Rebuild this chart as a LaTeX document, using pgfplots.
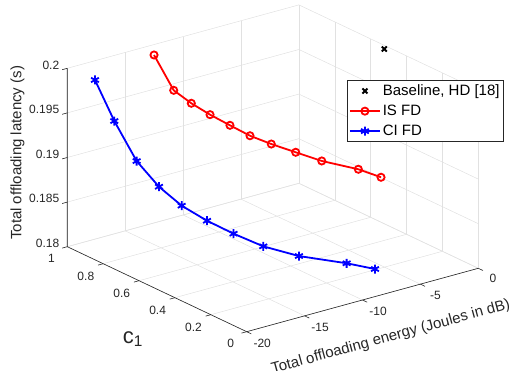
\documentclass[border=0pt]{standalone}
\usepackage{pgfplots}
\usepackage{pgfplotstable}
\pgfplotsset{compat=1.18}
\usepackage{fontspec}
\setmainfont{Liberation Sans}

% energy (dB), weight c1, latency (s)
\pgfplotstableread{
e      c    lat
-12.51 1.0  0.19883
-12.36 0.9  0.19577
-12.39 0.8  0.19528
-12.32 0.7  0.19493
-12.15 0.6  0.19463
-11.97 0.5  0.19435
-11.68 0.4  0.19427
-11.12 0.3  0.19410
-10.42 0.2  0.19383
-8.81  0.1  0.19328
-8.40  0.0  0.19319
}\isfd

\pgfplotstableread{
e      c    lat
-17.61 1.0  0.19784
-17.49 0.9  0.19415
-17.11 0.8  0.19048
-16.73 0.7  0.18842
-16.32 0.6  0.18710
-15.68 0.5  0.18614
-14.94 0.4  0.18538
-13.92 0.3  0.18455
-12.39 0.2  0.18387
-9.82  0.1  0.18310
-8.92  0.0  0.18309
}\cifd

\definecolor{axisgray}{RGB}{38,38,38}
\definecolor{gridgray}{RGB}{225,225,225}

\begin{document}
\begin{tikzpicture}
\begin{axis}[
  x={(11.58pt,3.17pt)},
  y={(-179.4pt,85pt)},
  z={(0pt,8920pt)},
  xmin=-20, xmax=0, ymin=0, ymax=1, zmin=0.18, zmax=0.2,
  xtick={-20,-15,-10,-5,0},
  xticklabels={-20,-15,-10,-5,0},
  ytick={0,0.2,0.4,0.6,0.8,1},
  yticklabels={0,0.2,0.4,0.6,0.8,1},
  ztick={0.18,0.185,0.19,0.195,0.2},
  zticklabels={0.18,0.185,0.19,0.195,0.2},
  tick pos=left,
  tick align=outside,
  major tick length=5pt,
  grid=major,
  grid style={gridgray, line width=0.5pt},
  axis line style={draw=none},
  tick style={draw=none},
  ticklabel style={font=\fontsize{12}{14}\selectfont, text=axisgray},
  xticklabel style={xshift=5pt, yshift=0pt},
  yticklabel style={xshift=-5pt, yshift=-2pt},
  label style={font=\fontsize{15}{18}\selectfont, text=axisgray},
  xlabel={Total offloading energy (Joules in dB)},
  xlabel style={sloped like x axis, yshift=-2.5pt, xshift=5pt},
  ylabel={\fontsize{22}{26}\selectfont c\textsubscript{1}},
  ylabel style={xshift=7pt, yshift=-9pt},
  zlabel={Total offloading latency (s)},
  zlabel style={yshift=-3pt},
  clip=false,
  legend style={at={(0.680,0.770)}, anchor=north west, draw=axisgray,
    line width=0.5pt, fill=white, font=\fontsize{15}{18}\selectfont,
    inner xsep=2pt, inner ysep=2.5pt, row sep=4pt},
  legend cell align=left,
  legend image code/.code={\draw[mark repeat=2,mark phase=2] plot coordinates {(0pt,0pt) (15pt,0pt) (30pt,0pt)};},
]
\addplot3[only marks, mark=x, mark size=3.5pt, line width=2pt, black] coordinates {(-0.37,0.5,0.19995)};
\addlegendentry{Baseline, HD [18]}
\addplot3[red, line width=1.8pt, mark=o, mark size=3.6pt] table[x=e,y=c,z=lat] {\isfd};
\addlegendentry{IS FD}
\addplot3[blue, line width=1.8pt, mark=asterisk, mark size=4.5pt] table[x=e,y=c,z=lat] {\cifd};
\addlegendentry{CI FD}
% axis lines
\draw[axisgray, line width=0.6pt] (axis cs:-20,1,0.2) -- (axis cs:-20,1,0.18) -- (axis cs:-20,0,0.18) -- (axis cs:0,0,0.18);
% tick marks on the three labelled edges
\draw[axisgray, line width=0.6pt]
  (axis cs:-20,1,0.18)  -- (axis cs:-20.45,1,0.18)
  (axis cs:-20,1,0.185) -- (axis cs:-20.45,1,0.185)
  (axis cs:-20,1,0.19)  -- (axis cs:-20.45,1,0.19)
  (axis cs:-20,1,0.195) -- (axis cs:-20.45,1,0.195)
  (axis cs:-20,1,0.2)   -- (axis cs:-20.45,1,0.2)
  (axis cs:-20,0.8,0.18) -- (axis cs:-20.45,0.8,0.18)
  (axis cs:-20,0.6,0.18) -- (axis cs:-20.45,0.6,0.18)
  (axis cs:-20,0.4,0.18) -- (axis cs:-20.45,0.4,0.18)
  (axis cs:-20,0.2,0.18) -- (axis cs:-20.45,0.2,0.18)
  (axis cs:-20,0,0.18)   -- (axis cs:-20.45,0,0.18)
  (axis cs:-20,0,0.18)  -- (axis cs:-20,-0.026,0.18)
  (axis cs:-15,0,0.18)  -- (axis cs:-15,-0.026,0.18)
  (axis cs:-10,0,0.18)  -- (axis cs:-10,-0.026,0.18)
  (axis cs:-5,0,0.18)   -- (axis cs:-5,-0.026,0.18)
  (axis cs:0,0,0.18)    -- (axis cs:0,-0.026,0.18);
\coordinate (O) at (axis cs:-20,0,0.18);
\end{axis}
\pgfresetboundingbox
\path (O) ++(-246.7pt,-39.3pt) rectangle ++(515pt,371pt);
\end{tikzpicture}
\end{document}
